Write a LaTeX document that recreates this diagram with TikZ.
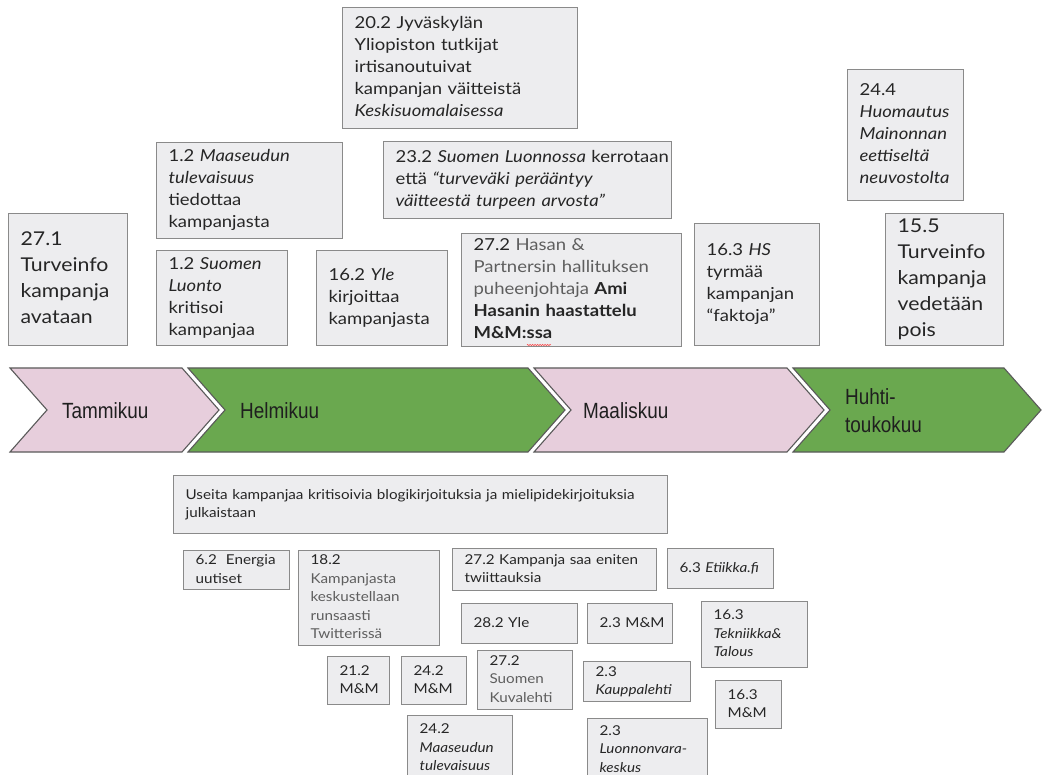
\documentclass[tikz,border=0pt]{standalone}
\usepackage{fontspec}
\setmainfont{Lato}[FakeStretch=1.12]
\newfontfamily\arialfont{Liberation Sans}[FakeStretch=0.86]
\usetikzlibrary{decorations.pathmorphing}
\definecolor{boxfill}{HTML}{EDEDEF}
\definecolor{boxdraw}{HTML}{8A8A8A}
\definecolor{txt}{HTML}{262626}
\definecolor{txtgray}{HTML}{5E5E5E}
\definecolor{chpink}{HTML}{E7CEDC}
\definecolor{chgreen}{HTML}{6AA84F}
\definecolor{chline}{HTML}{5A5A5A}
\tikzset{
 evbox/.style={draw=boxdraw, line width=1.2pt, fill=boxfill, anchor=north west, inner xsep=12pt, inner ysep=0pt, align=left, text=txt},
 bigtxt/.style={font=\fontsize{19}{26}\selectfont},
 midtxt/.style={font=\fontsize{16.5}{22}\selectfont},
 smalltxt/.style={font=\fontsize{13.6}{18.5}\selectfont},
 chev/.style={draw=chline, line width=1.1pt, line join=miter},
 chlabel/.style={font=\arialfont\fontsize{22}{28}\selectfont, anchor=west, align=left, text=black!88, inner sep=0pt}
}
\newcommand\evlines[1]{\begin{tabular}{@{}l@{}}#1\end{tabular}}
\newcommand\evbox[7]{\node[evbox,#6,minimum width={(#4-#2)*1pt},minimum height={(#5-#3)*1pt},text width={(#4-#2-24)*1pt}] (#1) at (#2,#3) {\evlines{#7}};}
\begin{document}
\begin{tikzpicture}[x=1pt,y=-1pt]
\useasboundingbox (0,0) rectangle (1044,775);
\fill[white] (0,0) rectangle (1044,775);
% month chevrons
\draw[chev, fill=chpink] (10,368) -- (182,368) -- (219,410) -- (182,452) -- (10,452) -- (47,410) -- cycle;
\draw[chev, fill=chgreen] (188,368) -- (528,368) -- (565,410) -- (528,452) -- (188,452) -- (225,410) -- cycle;
\draw[chev, fill=chpink] (534,368) -- (787,368) -- (824,410) -- (787,452) -- (534,452) -- (571,410) -- cycle;
\draw[chev, fill=chgreen] (793,368) -- (1004,368) -- (1041,410) -- (1004,452) -- (793,452) -- (830,410) -- cycle;
\node[chlabel] (tam) at (62,411) {Tammikuu};
\node[chlabel] (hel) at (240,411) {Helmikuu};
\node[chlabel] (maa) at (583,411) {Maaliskuu};
\node[chlabel] (huh) at (845,411) {Huhti-\\toukokuu};
% upper events
\evbox{t271}{8}{213}{127}{345}{bigtxt}{27.1\\Turveinfo\\kampanja\\avataan}
\evbox{m12a}{156}{142}{342}{238}{midtxt}{1.2 \textit{Maaseudun}\\\textit{tulevaisuus}\\tiedottaa\\kampanjasta}
\evbox{m12b}{156}{250}{287}{345}{midtxt}{1.2 \textit{Suomen}\\\textit{Luonto}\\kritisoi\\kampanjaa}
\evbox{y162}{316}{250}{447}{345}{midtxt}{16.2 \textit{Yle}\\kirjoittaa\\kampanjasta}
\evbox{j202}{342}{7}{577}{128}{midtxt}{20.2 Jyväskylän\\Yliopiston tutkijat\\irtisanoutuivat\\kampanjan väitteistä\\\textit{Keskisuomalaisessa}}
\evbox{s232}{383}{141}{671}{218}{midtxt}{23.2 \textit{Suomen Luonnossa} kerrotaan\\että \textit{“turveväki perääntyy}\\\textit{väitteestä turpeen arvosta”}}
\evbox{h272}{461}{233}{681}{346}{midtxt}{27.2 {\color{txtgray}Hasan \&}\\{\color{txtgray}Partnersin hallituksen}\\{\color{txtgray}puheenjohtaja} \textbf{Ami}\\\textbf{Hasanin haastattelu}\\\textbf{M\&M:ssa}}
\draw[red!80, decorate, decoration={zigzag, amplitude=0.7pt, segment length=2.5pt}] (527,345) -- (551,345);
\evbox{hs163}{694}{223}{819}{345}{midtxt}{16.3 \textit{HS}\\tyrmää\\kampanjan\\“faktoja”}
\evbox{h244}{847}{69}{963}{200}{midtxt}{24.4\\\textit{Huomautus}\\\textit{Mainonnan}\\\textit{eettiseltä}\\\textit{neuvostolta}}
\evbox{t155}{885}{213}{1003}{345}{bigtxt}{15.5\\Turveinfo\\kampanja\\vedetään\\pois}
% lower events
\evbox{useita}{173}{475}{667}{533}{smalltxt,inner xsep=10pt}{Useita kampanjaa kritisoivia blogikirjoituksia ja mielipidekirjoituksia\\julkaistaan}
\evbox{e62}{183}{550}{289}{589}{smalltxt}{6.2~ Energia\\uutiset}
\evbox{k182}{298}{550}{439}{645}{smalltxt}{18.2\\{\color{txtgray}Kampanjasta}\\{\color{txtgray}keskustellaan}\\{\color{txtgray}runsaasti}\\{\color{txtgray}Twitterissä}}
\evbox{k272}{452}{548}{656}{590}{smalltxt,inner xsep=11pt}{27.2 Kampanja saa eniten\\twiittauksia}
\evbox{e63}{667}{548}{773}{588}{smalltxt}{6.3 \textit{Etiikka.fi}}
\evbox{y282}{461}{603}{577}{643}{smalltxt}{28.2 Yle}
\evbox{mm23}{587}{603}{672}{643}{smalltxt}{2.3 M\&M}
\evbox{t163}{701}{601}{807}{667}{smalltxt}{16.3\\\textit{Tekniikka\&}\\\textit{Talous}}
\evbox{kl23}{583}{661}{690}{701}{smalltxt}{2.3\\\textit{Kauppalehti}}
\evbox{mm163}{715}{680}{781}{728}{smalltxt}{16.3\\M\&M}
\evbox{lv23}{587}{718}{707}{781}{smalltxt}{2.3\\\textit{Luonnonvara-}\\\textit{keskus}}
\evbox{mm212}{327}{656}{389}{704}{smalltxt}{21.2\\M\&M}
\evbox{mm242}{401}{656}{466}{704}{smalltxt}{24.2\\M\&M}
\evbox{sk272}{477}{650}{572}{709}{smalltxt}{27.2\\{\color{txtgray}Suomen}\\{\color{txtgray}Kuvalehti}}
\evbox{mt242}{407}{715}{512}{781}{smalltxt}{24.2\\\textit{Maaseudun}\\\textit{tulevaisuus}}
\end{tikzpicture}
\end{document}
